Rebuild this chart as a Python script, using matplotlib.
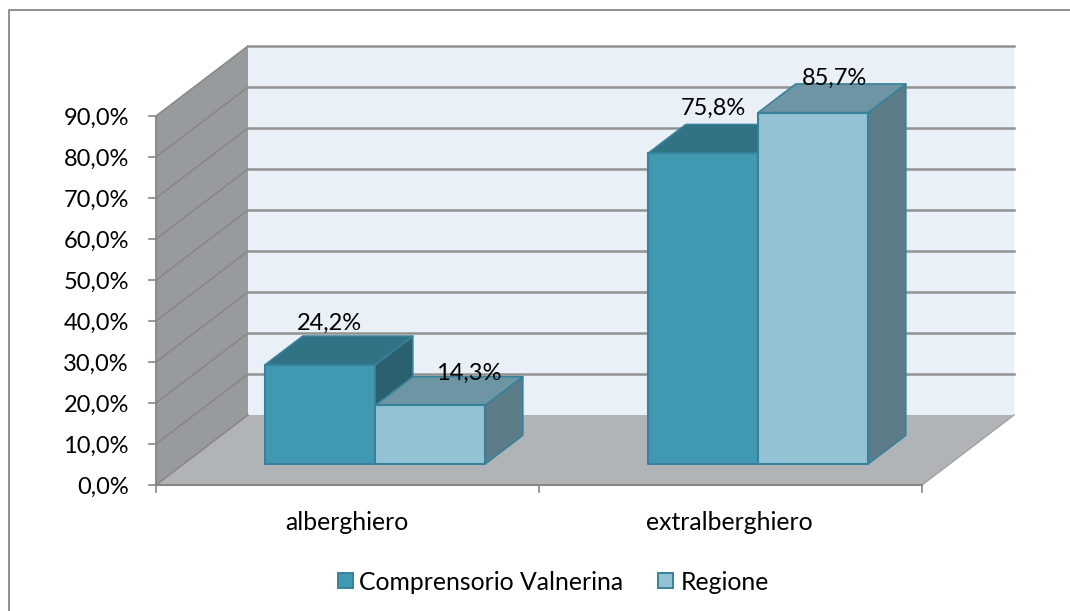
import matplotlib
matplotlib.use('Agg')
import matplotlib.pyplot as plt
from matplotlib.patches import Polygon, Rectangle

plt.rcParams['font.family'] = ['Lato', 'DejaVu Sans']

categories = ['alberghiero', 'extralberghiero']
series_names = ['Comprensorio Valnerina', 'Regione']
comprensorio = [24.2, 75.8]
regione = [14.3, 85.7]
value_labels = [['24,2%', '75,8%'], ['14,3%', '85,7%']]
y_ticks = [0, 10, 20, 30, 40, 50, 60, 70, 80, 90]
y_tick_labels = ['0,0%', '10,0%', '20,0%', '30,0%', '40,0%', '50,0%', '60,0%', '70,0%', '80,0%', '90,0%']

colors = [
    {'front': '#4198b1', 'top': '#317285', 'side': '#2a6070'},
    {'front': '#93c2d4', 'top': '#6e95a3', 'side': '#5c7c88'},
]
edge = '#37829a'
# data labels were moved by hand in the original chart (pixels from bar front top)
label_offsets = [[(9.5, -41), (10, -45)], [(38.5, -32), (21.5, -34)]]

# geometry of the fake 3d box, in pixels of the picture
x0, x1 = 156, 922
y0, px_per_unit = 485, 4.1
dx, dy = 92, 70
bar_w = 110
font_size = 17
font_size_big = 17.8


def proj(x, v, d=0.0):
    # x: pixels along the front, v: axis value, d: depth from 0 to 1
    return (x + dx * d, y0 - v * px_per_unit - dy * d)


W, H = 1070, 611
fig = plt.figure(figsize=(W / 100, H / 100), dpi=100)
ax = fig.add_axes([0, 0, 1, 1])
ax.set_xlim(0, W)
ax.set_ylim(H, 0)
ax.axis('off')

# only top and left of the chart frame are in the picture
ax.plot([9, 9, W], [H, 10, 10], color='#8f8f8f', lw=1.4, zorder=1)

vmax = y_ticks[-1]
# back wall, side wall, floor
ax.add_patch(Polygon([proj(x0, 0, 1), proj(x1, 0, 1), proj(x1, vmax, 1), proj(x0, vmax, 1)],
                     fc='#e9f0f7', ec='none', zorder=1))
ax.add_patch(Polygon([proj(x0, 0), proj(x0, 0, 1), proj(x0, vmax, 1), proj(x0, vmax)],
                     fc='#979b9d', ec='none', zorder=1))
ax.add_patch(Polygon([proj(x0, 0), proj(x1, 0), proj(x1, 0, 1), proj(x0, 0, 1)],
                     fc='#b1b4b7', ec='none', zorder=1))

for v in y_ticks:
    p0, p1, p2 = proj(x0, v), proj(x0, v, 1), proj(x1, v, 1)
    ax.plot([p0[0], p1[0]], [p0[1], p1[1]], color='#868686', lw=1.1, zorder=2)
    if v > 0:
        ax.plot([p1[0], p2[0]], [p1[1], p2[1]], color='#929292', lw=1.8, zorder=2)
    ax.plot([x0 - 7, x0], [p0[1], p0[1]], color='#868686', lw=1.2, zorder=2)

# axes lines and ticks
ax.plot([x0, x0], [proj(x0, 0)[1], proj(x0, vmax)[1]], color='#868686', lw=1.3, zorder=2)
ax.plot([x0, x1], [y0, y0], color='#868686', lw=1.5, zorder=2)
for x in [x0, (x0 + x1) / 2, x1]:
    ax.plot([x, x], [y0, y0 + 7], color='#868686', lw=1.2, zorder=2)
ax.plot([x1, x1 + dx], [y0, y0 - dy], color='#a0a0a0', lw=1.0, zorder=1)

for y, lab in zip(y_ticks, y_tick_labels):
    ax.text(x0 - 27, proj(x0, y)[1] + 2, lab, ha='right', va='center', fontsize=font_size, color='black')

# bars
cat_w = (x1 - x0) / len(categories)
d_front, d_back = 0.3, 0.71
z = 3
for c, cat in enumerate(categories):
    xc = x0 + cat_w * (c + 0.5)
    ax.text(xc - 1, 522, cat, ha='center', va='center', fontsize=font_size_big, color='black')
    for s, vals in enumerate([comprensorio, regione]):
        v = vals[c]
        xl = xc - bar_w + s * bar_w
        xr = xl + bar_w
        col = colors[s]
        ax.add_patch(Polygon([proj(xr, 0, d_front), proj(xr, 0, d_back), proj(xr, v, d_back), proj(xr, v, d_front)],
                             fc=col['side'], ec=edge, lw=1.2, joinstyle='round', zorder=z))
        ax.add_patch(Polygon([proj(xl, v, d_front), proj(xr, v, d_front), proj(xr, v, d_back), proj(xl, v, d_back)],
                             fc=col['top'], ec=edge, lw=1.2, joinstyle='round', zorder=z))
        ax.add_patch(Polygon([proj(xl, 0, d_front), proj(xr, 0, d_front), proj(xr, v, d_front), proj(xl, v, d_front)],
                             fc=col['front'], ec=edge, lw=1.5, joinstyle='round', zorder=z))
        z += 1
        lx, ly = proj((xl + xr) / 2, v, d_front)
        off = label_offsets[s][c]
        ax.text(lx + off[0], ly + off[1], value_labels[s][c], ha='center', va='center', fontsize=font_size,
                color='black', zorder=20)

# legend
leg_y = 581
for xs, xt, name, col in zip([338, 658], [359, 681], series_names, colors):
    ax.add_patch(Rectangle((xs, leg_y - 8), 15, 15, fc=col['front'], ec=edge, lw=1.4))
    ax.text(xt, leg_y + 1, name, ha='left', va='center', fontsize=font_size_big, color='black')

fig.savefig('out.png', dpi=100)
